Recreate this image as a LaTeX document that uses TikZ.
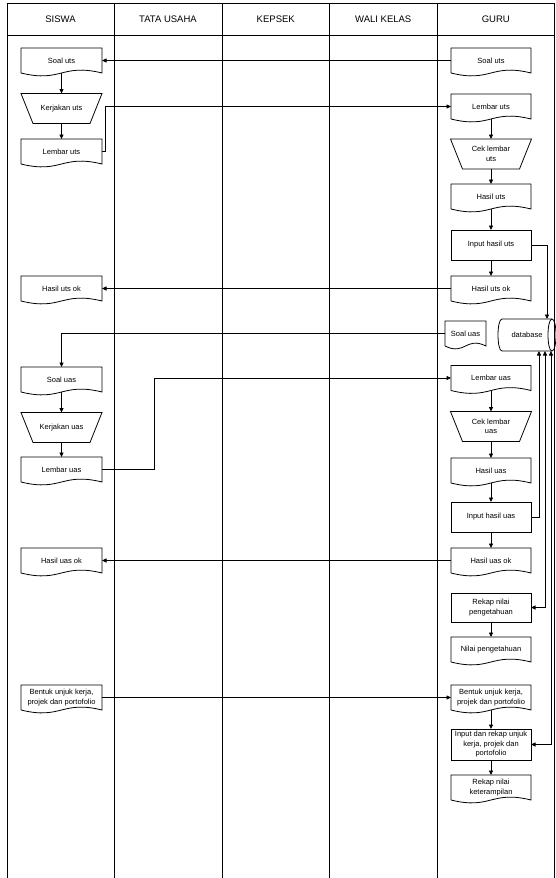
\documentclass[tikz,border=0pt]{standalone}
\usepackage{fontspec}
\setmainfont{Liberation Sans}
\usetikzlibrary{arrows.meta,calc}
\newcommand\nodefont{\fontsize{7.5}{9.5}\selectfont}
\newcommand\headfont{\fontsize{9.5}{11}\selectfont}
\tikzset{
  ln/.style={line width=0.8pt},
  lane/.style={line width=0.9pt},
  arr/.style={ln,-{Triangle[length=4.5pt,width=4pt]}},
  barr/.style={ln,{Triangle[length=4.5pt,width=4pt]}-{Triangle[length=4.5pt,width=4pt]}},
  procbox/.style={draw,ln,minimum width=80pt,minimum height=30pt,inner sep=1pt,outer sep=0pt,align=center,font=\nodefont},
  docbox/.style={minimum width=81pt,minimum height=25pt,inner sep=1pt,outer sep=0pt,align=center,font=\nodefont},
  trapbox/.style={minimum width=81pt,minimum height=30pt,inner sep=1pt,outer sep=0pt,align=center,font=\nodefont},
  dbbox/.style={minimum width=58pt,minimum height=32pt,inner sep=1pt,outer sep=0pt,font=\nodefont},
  headtxt/.style={font=\headfont,inner sep=0pt}
}
% document shape
\newcommand\DocN[4][81pt]{%
  \node[docbox,minimum width=#1] (#2) at (#3) {#4};
  \draw[ln] (#2.south west) -- (#2.north west) -- (#2.north east) -- (#2.south east)
    .. controls ($(#2.south)+(0,10pt)$) and ($(#2.south)+(0,-10pt)$) .. (#2.south west);
}
% manual operation shape
\newcommand\TrapN[3]{%
  \node[trapbox] (#1) at (#2) {#3};
  \draw[ln] (#1.north west) -- (#1.north east) -- ($(#1.south east)+(-12pt,0)$)
    -- ($(#1.south west)+(12pt,0)$) -- cycle;
}
\begin{document}
\begin{tikzpicture}[x=1pt,y=1pt]
\useasboundingbox (0,0) rectangle (555,-878);
% swimlanes
\draw[lane] (7,-3.5) -- (554.5,-3.5);
\draw[lane] (7,-35) -- (554.5,-35);
\foreach \xx in {7,114,222,329.5,437,554.5}{\draw[lane] (\xx,-3.5) -- (\xx,-878);}
\node[headtxt] (h1) at (60.5,-19) {SISWA};
\node[headtxt] (h2) at (168,-19) {TATA USAHA};
\node[headtxt] (h3) at (275.75,-19) {KEPSEK};
\node[headtxt] (h4) at (383.25,-19) {WALI KELAS};
\node[headtxt] (h5) at (495.75,-19) {GURU};

% SISWA
\DocN{s1}{61.5,-60.5}{Soal uts}
\TrapN{s2}{61.5,-108.5}{Kerjakan uts}
\DocN{s3}{61.5,-151.5}{Lembar uts}
\DocN{s4}{61.5,-288.5}{Hasil uts ok}
\DocN{s5}{61.5,-379.5}{Soal uas}
\TrapN{s6}{61.5,-427.5}{Kerjakan uas}
\DocN{s7}{61.5,-469.5}{Lembar uas}
\DocN{s8}{61.5,-560.5}{Hasil uas ok}
\DocN{s9}{61.5,-697.5}{Bentuk unjuk kerja,\\projek dan portofolio}

% GURU
\DocN[80pt]{g1}{491,-60.5}{Soal uts}
\DocN[80pt]{g2}{491,-106.5}{Lembar uts}
\TrapN{g3}{491,-154}{Cek lembar\\uts}
\DocN[80pt]{g4}{491,-196.5}{Hasil uts}
\node[procbox] (g5) at (491,-245) {Input hasil uts};
\DocN[80pt]{g6}{491,-288.5}{Hasil uts ok}
\DocN[41pt]{g7}{465.5,-333.5}{Soal uas}
\node[dbbox] (db) at (527,-335) {database};
\draw[ln] ($(db.north west)+(4pt,0)$) -- ($(db.north east)+(-4pt,0)$)
  .. controls ($(db.north east)+(1.33pt,0)$) and ($(db.south east)+(1.33pt,0)$) .. ($(db.south east)+(-4pt,0)$)
  -- ($(db.south west)+(4pt,0)$)
  .. controls ($(db.south west)+(-1.33pt,0)$) and ($(db.north west)+(-1.33pt,0)$) .. ($(db.north west)+(4pt,0)$);
\draw[ln] ($(db.north east)+(-4pt,0)$)
  .. controls ($(db.north east)+(-9.33pt,0)$) and ($(db.south east)+(-9.33pt,0)$) .. ($(db.south east)+(-4pt,0)$);
\DocN[80pt]{g8}{491,-378}{Lembar uas}
\TrapN{g9}{491,-426.5}{Cek lembar\\uas}
\DocN[80pt]{g10}{491,-470.5}{Hasil uas}
\node[procbox] (g11) at (491,-517) {Input hasil uas};
\DocN[80pt]{g12}{491,-560.5}{Hasil uas ok}
\node[procbox,minimum height=29pt] (g13) at (491,-607.5) {Rekap nilai\\pengetahuan};
\DocN[80pt]{g14}{491,-649.5}{Nilai pengetahuan}
\DocN[80pt]{g15}{491,-697.5}{Bentuk unjuk kerja,\\projek dan portofolio}
\node[procbox,minimum height=31pt] (g16) at (491,-744.5) {Input dan rekap unjuk\\kerja, projek dan\\portofolio};
\DocN[80pt]{g17}{491,-787.5}{Rekap nilai\\keterampilan};

% connectors
\draw[arr] (g1.west) -- (s1.east);
\draw[arr] (s1.south) -- (s2.north);
\draw[arr] (s2.south) -- (s3.north);
\draw[arr] (s3.east) -- (105,-151.5) |- (g2.west);
\draw[arr] (g2.south) -- (g3.north);
\draw[arr] (g3.south) -- (g4.north);
\draw[arr] (g4.south) -- (g5.north);
\draw[arr] (g5.south) -- (g6.north);
\draw[arr] (g5.east) -| ($(db.north)+(20pt,0)$);
\draw[arr] (g6.west) -- (s4.east);
\draw[arr] (g7.west) -| (s5.north);
\draw[arr] (s5.south) -- (s6.north);
\draw[arr] (s6.south) -- (s7.north);
\draw[arr] (s7.east) -- (154,-469.5) |- (g8.west);
\draw[arr] (g8.south) -- (g9.north);
\draw[arr] (g9.south) -- (g10.north);
\draw[arr] (g10.south) -- (g11.north);
\draw[arr] (g11.south) -- (g12.north);
\draw[arr] (g11.east) -| ($(db.south)+(12pt,0)$);
\draw[arr] (g12.west) -- (s8.east);
\draw[barr] (g13.east) -| ($(db.south)+(18pt,0)$);
\draw[arr] (g13.south) -- (g14.north);
\draw[arr] (s9.east) -- (g15.west);
\draw[arr] (g15.south) -- (g16.north);
\draw[arr] (g16.south) -- (g17.north);
\draw[barr] (g16.east) -| ($(db.south)+(24pt,0)$);
\end{tikzpicture}
\end{document}
